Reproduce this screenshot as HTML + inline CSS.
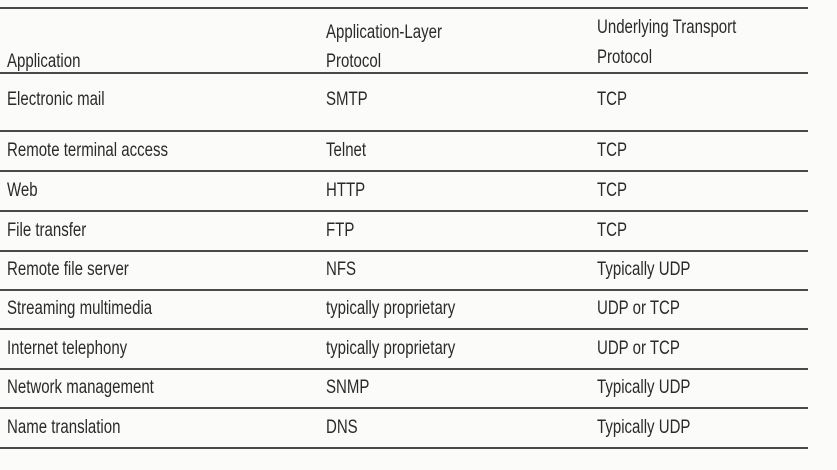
<!DOCTYPE html>
<html><head><style>
body{margin:0;width:837px;height:470px;background:#fbfbf9;overflow:hidden;position:relative;font-family:"Liberation Sans",sans-serif;color:#2a2a2a}
.l{position:absolute;left:0;width:808px;height:2px;background:#4a4a4a}
.t{position:absolute;font-size:19px;line-height:22px;height:22px;white-space:nowrap;transform:scaleX(0.79);transform-origin:left center}
</style></head><body>
<div class="l" style="top:7px"></div>
<div class="l" style="top:72px"></div>
<div class="l" style="top:130px"></div>
<div class="l" style="top:170px"></div>
<div class="l" style="top:210px"></div>
<div class="l" style="top:250px"></div>
<div class="l" style="top:289px"></div>
<div class="l" style="top:328px"></div>
<div class="l" style="top:368px"></div>
<div class="l" style="top:407px"></div>
<div class="l" style="top:447px"></div>

<div class="t" style="left:7px;top:51px">Application</div>
<div class="t" style="left:326px;top:22px">Application-Layer</div>
<div class="t" style="left:326px;top:51px">Protocol</div>
<div class="t" style="left:597px;top:17px">Underlying Transport</div>
<div class="t" style="left:597px;top:47px">Protocol</div>

<div class="t" style="left:7px;top:89px">Electronic mail</div><div class="t" style="left:326px;top:89px">SMTP</div><div class="t" style="left:597px;top:89px">TCP</div>
<div class="t" style="left:7px;top:140px">Remote terminal access</div><div class="t" style="left:326px;top:140px">Telnet</div><div class="t" style="left:597px;top:140px">TCP</div>
<div class="t" style="left:7px;top:180px">Web</div><div class="t" style="left:326px;top:180px">HTTP</div><div class="t" style="left:597px;top:180px">TCP</div>
<div class="t" style="left:7px;top:220px">File transfer</div><div class="t" style="left:326px;top:220px">FTP</div><div class="t" style="left:597px;top:220px">TCP</div>
<div class="t" style="left:7px;top:259px">Remote file server</div><div class="t" style="left:326px;top:259px">NFS</div><div class="t" style="left:597px;top:259px">Typically UDP</div>
<div class="t" style="left:7px;top:298px">Streaming multimedia</div><div class="t" style="left:326px;top:298px">typically proprietary</div><div class="t" style="left:597px;top:298px">UDP or TCP</div>
<div class="t" style="left:7px;top:338px">Internet telephony</div><div class="t" style="left:326px;top:338px">typically proprietary</div><div class="t" style="left:597px;top:338px">UDP or TCP</div>
<div class="t" style="left:7px;top:377px">Network management</div><div class="t" style="left:326px;top:377px">SNMP</div><div class="t" style="left:597px;top:377px">Typically UDP</div>
<div class="t" style="left:7px;top:417px">Name translation</div><div class="t" style="left:326px;top:417px">DNS</div><div class="t" style="left:597px;top:417px">Typically UDP</div>
</body></html>
